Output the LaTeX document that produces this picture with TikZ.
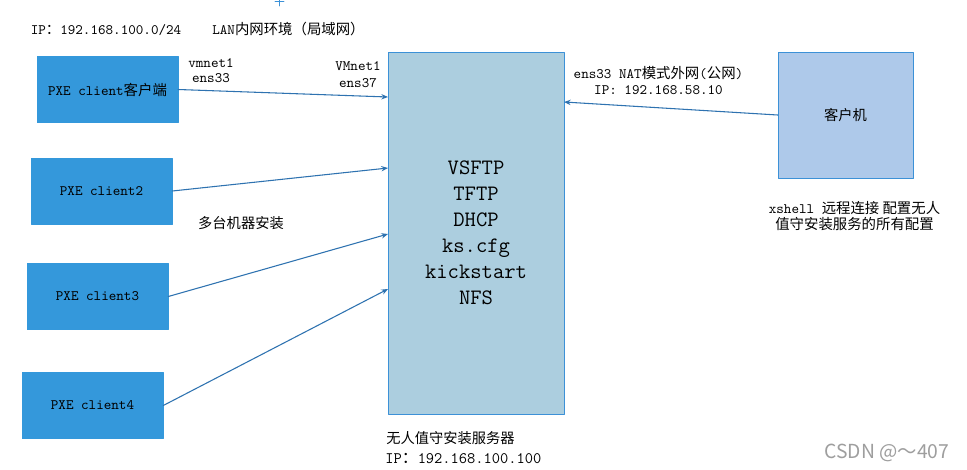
\documentclass[tikz,border=0pt]{standalone}
\usepackage{fontspec}
\newfontfamily\cjk{Noto Sans CJK SC}
\usetikzlibrary{arrows.meta}
\newcommand{\zhtext}[1]{{\cjk #1}}
\definecolor{pxeblue}{RGB}{52,152,219}
\definecolor{srvfill}{RGB}{172,206,223}
\definecolor{hostfill}{RGB}{174,201,234}
\definecolor{edgeblue}{RGB}{60,145,215}
\definecolor{linkblue}{RGB}{46,114,176}

\begin{document}
\begin{tikzpicture}[x=0.75pt,y=-0.75pt,line cap=round,line join=round,
  pxe/.style={draw=pxeblue,fill=pxeblue,minimum width=105.75pt,minimum height=49.5pt,inner sep=0pt,font=\ttfamily\fontsize{10.8}{13}\selectfont},
  lbl/.style={font=\ttfamily\fontsize{10.8}{11.5}\selectfont,align=center,inner sep=0pt},
  link/.style={linkblue,line width=0.8pt,-{Stealth[length=5pt,width=4pt]}}]
\useasboundingbox[fill=white] (0,0) rectangle (967,469);
% top labels
\draw[edgeblue,line width=0.6pt] (275,1) -- (284,1) (279.5,0) -- (279.5,6);
\node[lbl] (lan) at (288.5,29) {LAN\zhtext{内网环境（局域网）}};
\node[lbl] (subnet) at (106,30) {IP\zhtext{：}192.168.100.0/24};
% clients
\node[pxe] (pxe1) at (107.5,89.5) {PXE client\zhtext{客户端}};
\node[pxe] (pxe2) at (101.5,191) {PXE client2};
\node[pxe] (pxe3) at (97.5,296.5) {PXE client3};
\node[pxe] (pxe4) at (92.5,405.5) {PXE client4};
% server
\node[draw=edgeblue,fill=srvfill,minimum width=132pt,minimum height=271.5pt,inner sep=0pt,align=center,
  font=\ttfamily\fontsize{16.5}{19.5}\selectfont] (server) at (476,233)
  {VSFTP\\TFTP\\DHCP\\ks.cfg\\kickstart\\NFS};
\node[lbl,anchor=west,font=\cjk\fontsize{10.7}{12}\selectfont] (srvname) at (386,438) {无人值守安装服务器};
\node[lbl,anchor=west,font=\ttfamily\fontsize{12}{14}\selectfont] (srvip) at (385,458) {IP\zhtext{：}192.168.100.100};
% admin host
\node[draw=edgeblue,fill=hostfill,minimum width=101.25pt,minimum height=94.5pt,inner sep=0pt,
  font=\cjk\fontsize{10.7}{12}\selectfont] (host) at (845.5,115) {客户机};
\node[lbl,font=\ttfamily\fontsize{10.8}{12}\selectfont] (xshell) at (854.5,216)
  {xshell \zhtext{远程连接 配置无人}\\\zhtext{值守安装服务的所有配置}};
% interface labels
\node[lbl] (if1) at (211,70.5) {vmnet1\\ens33};
\node[lbl,font=\ttfamily\fontsize{10.8}{12.75}\selectfont] (if2) at (358,74.5) {VMnet1\\ens37};
\node[lbl] (nat) at (658.5,80.5) {ens33 NAT\zhtext{模式外网}(\zhtext{公网})\\IP: 192.168.58.10};
\node[lbl,font=\cjk\fontsize{10.7}{12}\selectfont] (multi) at (241,223) {多台机器安装};
% links
\coordinate (in1) at (388,97);
\coordinate (in2) at (388,168);
\coordinate (in3) at (388,234);
\coordinate (in4) at (388,289);
\coordinate (in5) at (564,102);
\draw[link] (pxe1.east) -- (in1);
\draw[link] (pxe2.east) -- (in2);
\draw[link] (pxe3.east) -- (in3);
\draw[link] (pxe4.east) -- (in4);
\draw[link] (host.west) -- (in5);
% watermark
\node[font=\cjk\fontsize{14.5}{16}\selectfont,text=black!38,inner sep=0pt] (mark) at (887,453) {CSDN @～407};
\end{tikzpicture}
\end{document}
